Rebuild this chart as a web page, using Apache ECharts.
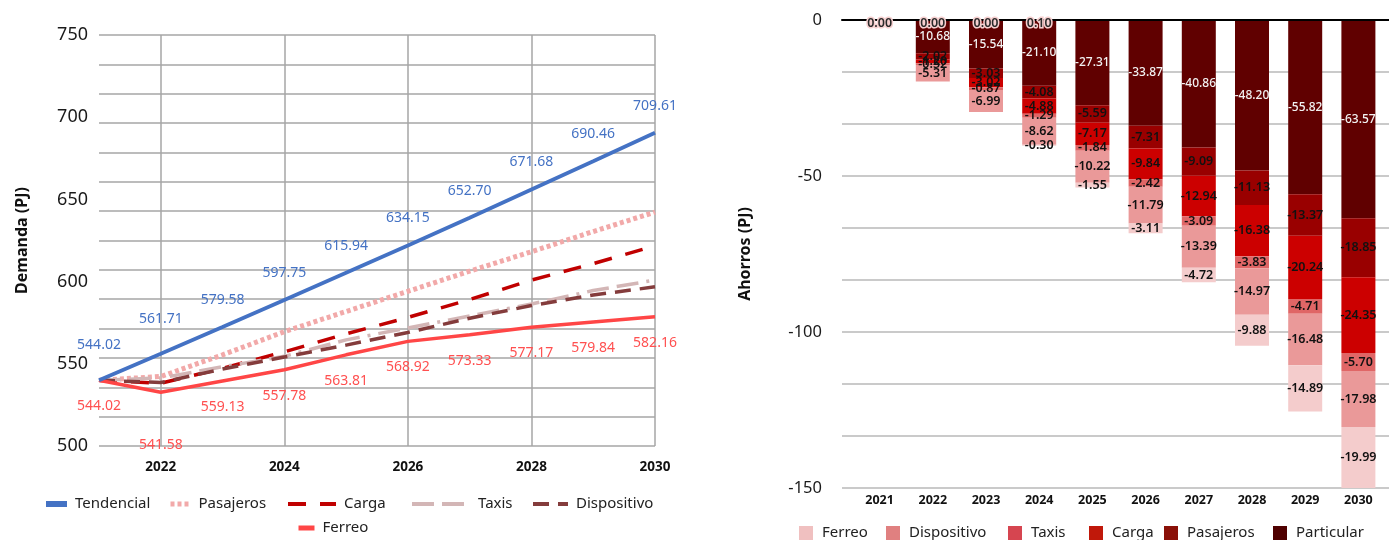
<!DOCTYPE html>
<html>
<head>
<meta charset="utf-8">
<script src="https://cdn.jsdelivr.net/npm/echarts@6/dist/echarts.min.js"></script>
<style>html,body{margin:0;padding:0;background:#ffffff}#c{width:1389px;height:540px}</style>
</head>
<body>
<div id="c"></div>
<script>
// ---------- data ----------
const years = ['2021','2022','2023','2024','2025','2026','2027','2028','2029','2030'];

// Left chart: Demanda (PJ)
const tendencial  = [544.02, 561.71, 579.58, 597.75, 615.94, 634.15, 652.70, 671.68, 690.46, 709.61];
const pasajeros   = [544.02, 546.5, 561, 576.5, 590, 603.5, 617, 630, 643.5, 656.5];
const carga       = [544.02, 542, 552, 563, 575, 586, 598, 611, 622, 634];
const taxis       = [544.02, 545.5, 553, 560, 571, 579, 587, 595, 604, 611];
const dispositivo = [544.02, 542.5, 551.5, 559.5, 567.5, 576, 585.5, 594, 601, 606.5];
const ferreo      = [544.02, 536, 543.5, 551, 561, 570, 574.5, 579.5, 583, 586.5];
const ferreoLabels = ['544.02','541.58','559.13','557.78','563.81','568.92','573.33','577.17','579.84','582.16'];
const demandaTicks = [500, 550, 600, 650, 700, 750];

// Right chart: Ahorros (PJ)
const particularAh  = [0.00, -10.68, -15.54, -21.10, -27.31, -33.87, -40.86, -48.20, -55.82, -63.57];
const pasajerosAh   = [0.00, -2.02, -3.03, -4.08, -5.59, -7.31, -9.09, -11.13, -13.37, -18.85];
const cargaAh       = [0.00, -1.20, -3.02, -4.88, -7.17, -9.84, -12.94, -16.38, -20.24, -24.35];
const taxisAh       = [0.00, -0.52, -0.87, -1.29, -1.84, -2.42, -3.09, -3.83, -4.71, -5.7];
const dispositivoAh = [0.00, -5.31, -6.99, -8.62, -10.22, -11.79, -13.39, -14.97, -16.48, -17.98];
const ferreoAh      = [0.00, 0.00, 0.00, -0.30, -1.55, -3.11, -4.72, -9.88, -14.89, -19.99];
const topAh         = [0.00, 0.00, 0.00, 0.10, null, null, null, null, null, null];
const ahorrosTicks  = [-150, -100, -50, 0];

// ---------- styling ----------
const FF = "'Noto Sans', sans-serif";
const chart = echarts.init(document.getElementById('c'));

const lineDefs = [
  {name:'Tendencial',  data:tendencial,  color:'#4472C4', width:3.8, type:'solid'},
  {name:'Pasajeros',   data:pasajeros,   color:'#F2A9A9', width:5,   type:[4,3]},
  {name:'Carga',       data:carga,       color:'#C00000', width:3.5, type:[18,14]},
  {name:'Taxis',       data:taxis,       color:'#D3B6B6', width:3.5, type:[22,8,22,8,3,8]},
  {name:'Dispositivo', data:dispositivo, color:'#843C3C', width:3.5, type:[16,9]},
  {name:'Ferreo',      data:ferreo,      color:'#FF4646', width:3.5, type:'solid'}
];
// legend layout: name, left, centerY, iconWidth, iconLineWidth
const leftLegendLayout = [
  ['Tendencial', 43, 504, 21, 6],
  ['Pasajeros', 168, 504, 20, 5],
  ['Carga', 286, 504, 48, 4],
  ['Taxis', 410, 504, 58, 4],
  ['Dispositivo', 531, 504, 35, 4],
  ['Ferreo', 296, 528, 16, 5]
];
const barDefs = [
  {name:'Particular',  data:particularAh,  color:'#600000', legend:'#4F0000', label:'#F2F2F2'},
  {name:'Pasajeros ',  data:pasajerosAh,   color:'#990000', legend:'#8A1008', label:'#111111'},
  {name:'Carga ',      data:cargaAh,       color:'#CC0000', legend:'#C0180A', label:'#111111'},
  {name:'Taxis ',      data:taxisAh,       color:'#E06666', legend:'#D64550', label:'#111111'},
  {name:'Dispositivo ',data:dispositivoAh, color:'#EA9999', legend:'#E08080', label:'#111111'},
  {name:'Ferreo ',     data:ferreoAh,      color:'#F4CCCC', legend:'#F0C0C0', label:'#111111'}
];
// legend layout: name, left
const rightLegendLayout = [
  ['Ferreo ', 799], ['Dispositivo ', 886], ['Taxis ', 1008], ['Carga ', 1089], ['Pasajeros ', 1164], ['Particular', 1273]
];

const series = [];
lineDefs.forEach(d => {
  const s = {
    name: d.name, type:'line', xAxisIndex:0, yAxisIndex:0, data:d.data,
    symbol:'circle', symbolSize:0, showSymbol:true, animation:false, emphasis:{disabled:true},
    lineStyle:{color:d.color, width:d.width, type:d.type, cap:'butt'},
    itemStyle:{color:d.color}
  };
  if (d.name === 'Tendencial') {
    s.label = {show:true, position:'top', distance:20, color:'#4472C4', fontFamily:FF, fontSize:14,
               formatter:p => Number(p.value).toFixed(2)};
    s.data = d.data.map((v,i) => i < 2 ? {value:v, label:{distance:28}} : v);
    s.z = 5;
  }
  if (d.name === 'Ferreo') {
    s.label = {show:true, position:'bottom', distance:19, color:'#FF5050', fontFamily:FF, fontSize:14,
               formatter:p => ferreoLabels[p.dataIndex]};
    s.data = d.data.map((v,i) => i === 1 ? {value:v, label:{distance:46}} : v);
  }
  series.push(s);
});
const fmt = v => (v === null || v === undefined || v === 0) ? '' : Number(v).toFixed(2);
barDefs.forEach(d => {
  series.push({
    name:d.name, type:'bar', stack:'ah', xAxisIndex:1, yAxisIndex:3, barWidth:34, barGap:'-100%',
    animation:false, emphasis:{disabled:true},
    itemStyle:{color:d.color},
    data: d.data,
    label:{show:true, position:'inside', color:d.label, fontFamily:FF,
           fontSize: d.name === 'Particular' ? 12 : 12.5, fontWeight: d.name === 'Particular' ? 500 : 600,
           formatter:p => fmt(p.value)}
  });
});
// values printed at the zero line (2021-2024)
series.push({
  name:'Ferreo (0)', type:'bar', xAxisIndex:1, yAxisIndex:3, barWidth:34, barGap:'-100%', z:6,
  animation:false, emphasis:{disabled:true}, itemStyle:{color:'#F4CCCC'},
  data: topAh,
  label:{show:true, position:'inside', offset:[0,3], color:'#2a2a2a', fontFamily:FF, fontSize:12.5, fontWeight:600,
         textBorderColor:'#F6D0D0', textBorderWidth:3,
         formatter:p => (p.value === null || p.value === undefined) ? '' : Number(p.value).toFixed(2)}
});

const legends = [];
leftLegendLayout.forEach(l => {
  legends.push({
    data:[l[0]], left:l[1], top:l[2]-9, padding:0, itemWidth:l[3], itemHeight:14,
    selectedMode:false, lineStyle:{width:l[4]},
    itemStyle:{color:'rgba(0,0,0,0)', borderWidth:0, opacity:0},
    textStyle:{fontFamily:FF, fontSize:15, color:'#222', lineHeight:18, padding:[0,0,0,3]}
  });
});
rightLegendLayout.forEach(l => {
  const bd = barDefs.find(b => b.name === l[0]);
  legends.push({
    data:[{name:l[0], icon:'rect', itemStyle:{color:bd.legend}}], left:l[1], top:533-9, padding:0,
    itemWidth:14, itemHeight:14, selectedMode:false,
    textStyle:{fontFamily:FF, fontSize:15, color:'#222', lineHeight:18, padding:[0,0,0,4]}
  });
});

const oddIdx = (i) => i % 2 === 1;
const option = {
  backgroundColor:'#ffffff',
  animation:false,
  grid:[
    {left:99, top:35, width:556, height:411, outerBoundsMode:'none', containLabel:false},
    {left:853, top:20, width:532, height:468, outerBoundsMode:'none', containLabel:false},
    {left:842, top:20, width:547, height:468, outerBoundsMode:'none', containLabel:false}
  ],
  xAxis:[
    {type:'category', gridIndex:0, data:years, boundaryGap:false,
     axisLine:{show:false}, axisTick:{show:false},
     axisLabel:{interval:oddIdx, fontFamily:FF, fontSize:13.5, fontWeight:'bold', color:'#111', margin:14},
     splitLine:{show:true, interval:oddIdx, lineStyle:{color:'#A6A6A6', width:1.5}}},
    {type:'category', gridIndex:1, data:years,
     axisLine:{show:false}, axisTick:{show:false},
     axisLabel:{fontFamily:FF, fontSize:12.5, fontWeight:'bold', color:'#111', margin:6},
     splitLine:{show:false}},
    {type:'value', gridIndex:2, min:0, max:1, position:'top', z:4,
     axisLine:{show:true, onZero:false, lineStyle:{color:'#000', width:2}},
     axisTick:{show:false}, axisLabel:{show:false}, splitLine:{show:false}}
  ],
  yAxis:[
    {type:'value', gridIndex:0, position:'left', min:500, max:775, show:false},
    {type:'value', gridIndex:0, position:'left', offset:0, min:0, max:14, interval:1,
     axisLine:{show:false}, axisTick:{show:false}, axisLabel:{show:false},
     splitLine:{show:true, lineStyle:{color:'#A6A6A6', width:1.5}}},
    {type:'value', gridIndex:0, position:'left', offset:0,
     min:demandaTicks[0], max:demandaTicks[demandaTicks.length-1],
     interval:demandaTicks[1]-demandaTicks[0],
     name:'Demanda (PJ)', nameLocation:'middle', nameGap:69,
     nameTextStyle:{fontFamily:FF, fontSize:16, fontWeight:'bold', color:'#111'},
     axisLine:{show:false}, axisTick:{show:false}, splitLine:{show:false},
     axisLabel:{fontFamily:FF, fontSize:18, color:'#1a1a1a', margin:11}},
    {type:'value', gridIndex:1, position:'left', min:-150, max:0, show:false},
    {type:'value', gridIndex:2, position:'left', offset:0, min:0, max:9, interval:1,
     axisLine:{show:false}, axisTick:{show:false}, axisLabel:{show:false},
     splitLine:{show:true, lineStyle:{color:'#B8B8B8', width:1.5}}},
    {type:'value', gridIndex:2, position:'left', offset:0,
     min:ahorrosTicks[0], max:ahorrosTicks[ahorrosTicks.length-1],
     interval:ahorrosTicks[1]-ahorrosTicks[0],
     name:'Ahorros (PJ)', nameLocation:'middle', nameGap:89,
     nameTextStyle:{fontFamily:FF, fontSize:16, fontWeight:'bold', color:'#111'},
     axisLine:{show:false}, axisTick:{show:false}, splitLine:{show:false},
     axisLabel:{fontFamily:FF, fontSize:16.5, color:'#1a1a1a', margin:20}}
  ],
  legend: legends,
  series: series
};
chart.setOption(option);
</script>
</body>
</html>
